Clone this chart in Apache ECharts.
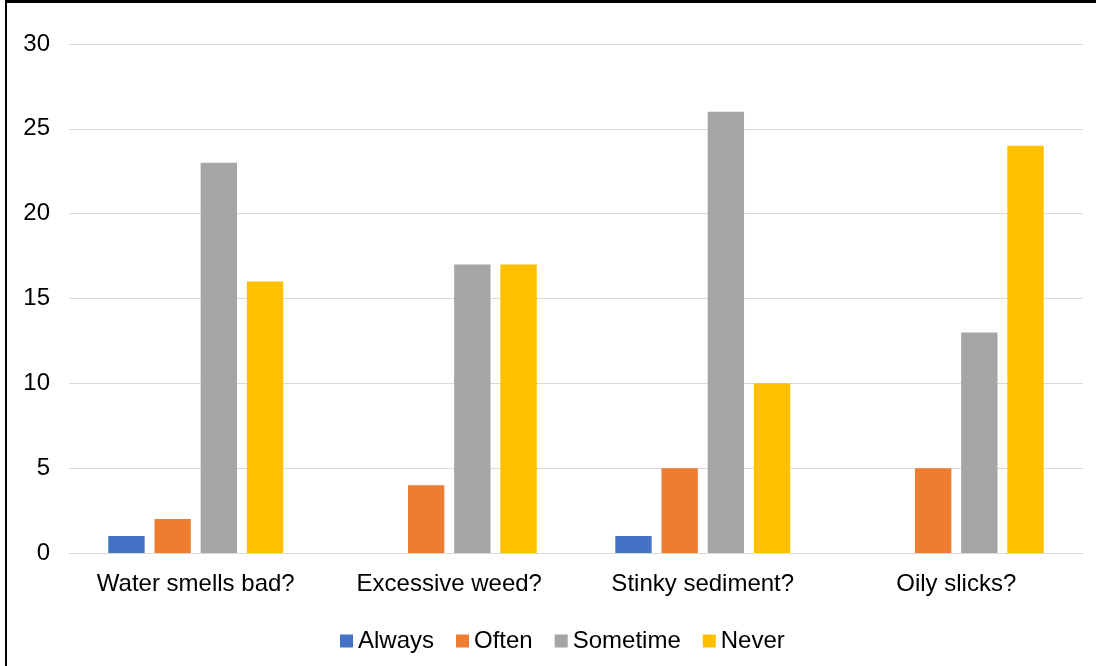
<!DOCTYPE html>
<html><head><meta charset="utf-8">
<script src="https://cdn.jsdelivr.net/npm/echarts@6/dist/echarts.min.js"></script>
<style>
html,body{margin:0;padding:0;background:#fff;}
#frame{position:absolute;left:5px;top:0;width:1091px;height:666px;border-left:2px solid #000;border-top:3px solid #000;box-sizing:border-box;}
#chart{position:absolute;left:0;top:0;width:1096px;height:666px;}
</style></head>
<body>
<div id="chart"></div>
<div id="frame"></div>
<script>
const categories = ['Water smells bad?', 'Excessive weed?', 'Stinky sediment?', 'Oily slicks?'];
const always = [1, 0, 1, 0];
const often = [2, 4, 5, 5];
const sometime = [23, 17, 26, 13];
const never = [16, 17, 10, 24];
const seriesNames = ['Always', 'Often', 'Sometime', 'Never'];
const colors = ['#4472C4', '#ED7D31', '#A5A5A5', '#FFC000'];
const font = 'Liberation Sans, Arial, sans-serif';
const chart = echarts.init(document.getElementById('chart'));
const data = [always, often, sometime, never];
chart.setOption({
  animation: false,
  color: colors,
  textStyle: {fontFamily: font},
  grid: {left: 69, right: 13, top: 44, bottom: 113},
  legend: {
    bottom: 8, left: 335, itemWidth: 13, itemHeight: 13, itemGap: 22,
    icon: 'rect',
    textStyle: {fontSize: 24, color: '#000', fontFamily: font, padding: [0,0,0,0]},
    data: seriesNames
  },
  xAxis: {
    type: 'category', data: categories,
    axisLine: {lineStyle: {color: '#D9D9D9', width: 1}},
    axisTick: {show: false},
    axisLabel: {fontSize: 24, color: '#000', margin: 19, fontFamily: font, interval: 0}
  },
  yAxis: {
    type: 'value', min: 0, max: 30, interval: 5,
    axisLine: {show: false}, axisTick: {show: false},
    splitLine: {lineStyle: {color: '#D9D9D9', width: 1}},
    axisLabel: {fontSize: 24, color: '#000', margin: 19, fontFamily: font}
  },
  series: seriesNames.map((n, i) => ({
    name: n, type: 'bar', data: data[i],
    barGap: '27%', barCategoryGap: '31%'
  }))
});
</script>
</body></html>
